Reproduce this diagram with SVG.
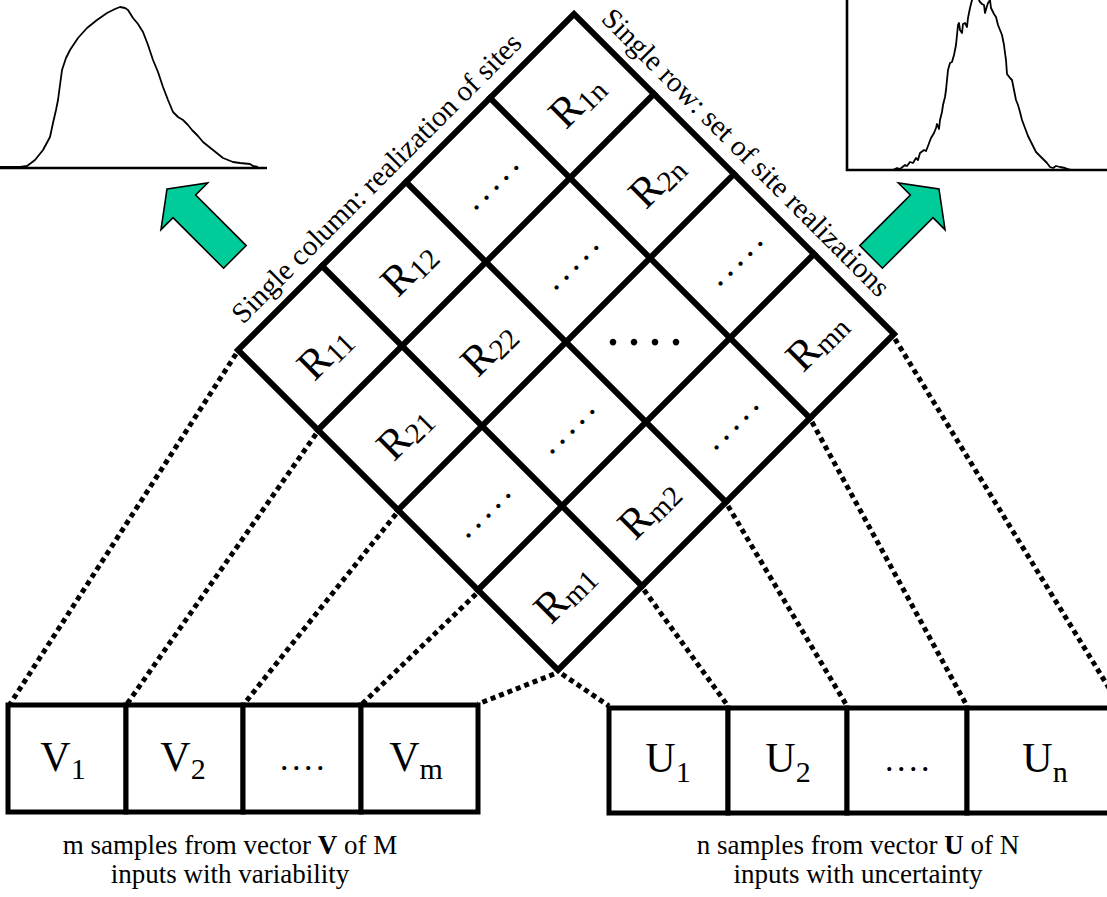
<svg xmlns="http://www.w3.org/2000/svg" width="1107" height="897" viewBox="0 0 1107 897">
  <style>
    text { font-family: "Liberation Serif", "Times New Roman", serif; fill: #000; }
    .grid { fill: none; stroke: #000; stroke-width: 6; stroke-linecap: square; }
    .box { fill: #fff; stroke: #000; stroke-width: 5; }
    .dotted { fill: none; stroke: #000; stroke-width: 5; stroke-dasharray: 5 4; }
    .arrow { fill: #00CC99; stroke: #000; stroke-width: 1.6; stroke-linejoin: miter; }
    .curve { fill: none; stroke: #000; stroke-width: 1.8; stroke-linejoin: round; }
    .axis { fill: none; stroke: #000; stroke-width: 2.6; }
    .cell { font-size: 43px; text-anchor: middle; }
    .sub { font-size: 29px; }
    .rdots { font-size: 36px; text-anchor: middle; letter-spacing: 5px; }
    .edge { font-size: 29px; }
    .lbl { font-size: 42px; text-anchor: middle; }
    .lsub { font-size: 30px; }
    .caption { font-size: 27px; text-anchor: middle; }
  </style>

  <!-- distribution of results across sites (variability) -->
  <g id="variability-pdf">
    <line class="axis" x1="0" y1="168" x2="267" y2="168"/>
    <line class="axis" x1="0" y1="167.5" x2="22" y2="167.5" stroke-width="3.6"/>
    <polyline class="curve" points="0,167 20,167 27,166 35,160 43,150 50,137 53,123 56,110 58,100 60,85 62,70 66,58 70,50 78,38 87,28 97,20 107,13 115,9 120,7 125,8 128,10 133,18 138,24 143,32 148,45 153,60 158,72 163,87 168,100 173,112 178,117 183,120 188,125 192,130 198,136 203,142 208,146 213,150 218,154 223,158 228,160 233,162 240,163 250,164 253,166 258,167"/>
  </g>

  <!-- distribution of results across realizations (uncertainty) -->
  <g id="uncertainty-pdf">
    <path class="axis" d="M847,0 V170 H1107"/>
    <polyline class="curve" points="893,170 897,168 900,169 905,165 907,166 910,162 913,163 916,158 918,160 920,153 924,150 926,151 928,146 931,138 934,133 936,128 937,124 939,129 940,120 942,112 943,105 945,97 946,90 947,80 948,70 950,63 952,62 954,55 956,45 957,35 958,25 959,23 960,30 962,33 963,24 965,23 967,27 968,18 970,8 972,0 975,-3 978,-2 980,2 982,4 984,5 985,13 987,6 988,3 990,0 991,8 992,10 994,14 996,17 998,25 1000,30 1002,35 1004,45 1005,53 1006,60 1007,74 1010,78 1012,80 1014,90 1016,100 1018,105 1020,112 1022,120 1025,128 1028,136 1030,140 1033,146 1036,152 1040,156 1044,160 1047,163 1050,167 1053,168 1056,166 1060,167 1065,168 1068,169 1072,170"/>
  </g>

  <!-- block arrows -->
  <defs>
    <polygon id="block-arrow" points="0,0 33,24.5 16,24.5 16,96 -16,96 -16,24.5 -33,24.5"/>
  </defs>
  <g id="arrow-left"><use href="#block-arrow" class="arrow" transform="translate(167,189) rotate(-45)"/></g>
  <g id="arrow-right"><use href="#block-arrow" class="arrow" transform="translate(939,189) rotate(45)"/></g>

  <!-- dotted connectors between sample boxes and matrix edges -->
  <g id="connectors">
    <line class="dotted" x1="236" y1="354" x2="10" y2="704"/>
    <line class="dotted" x1="316" y1="434" x2="127" y2="704"/>
    <line class="dotted" x1="396" y1="514" x2="244" y2="704"/>
    <line class="dotted" x1="476" y1="594" x2="362" y2="704"/>
    <line class="dotted" x1="554" y1="674" x2="478" y2="704"/>
    <line class="dotted" x1="562" y1="674" x2="609" y2="706"/>
    <line class="dotted" x1="644" y1="590" x2="728" y2="706"/>
    <line class="dotted" x1="728" y1="506" x2="847" y2="706"/>
    <line class="dotted" x1="812" y1="422" x2="967" y2="706"/>
    <line class="dotted" x1="895" y1="339" x2="1120" y2="706"/>
  </g>

  <!-- result matrix: columns run up-right, rows run down-right -->
  <g id="matrix" transform="translate(238,350) rotate(-45)">
    <rect class="grid" x="0" y="0" width="475.2" height="452.6"/>
    <path class="grid" d="M118.8,0 V452.6 M237.6,0 V452.6 M356.4,0 V452.6 M0,113.1 H475.2 M0,226.3 H475.2 M0,339.4 H475.2"/>

    <g id="cell-r11"><text class="cell" x="59.4" y="76.6">R<tspan class="sub" dy="4">11</tspan></text></g>
    <g id="cell-r12"><text class="cell" x="178.2" y="76.6">R<tspan class="sub" dy="4">12</tspan></text></g>
    <g id="cell-r13"><text class="rdots" x="300" y="69.6">.....</text></g>
    <g id="cell-r1n"><text class="cell" x="415.8" y="76.6">R<tspan class="sub" dy="4">1n</tspan></text></g>

    <g id="cell-r21"><text class="cell" x="59.4" y="189.7">R<tspan class="sub" dy="4">21</tspan></text></g>
    <g id="cell-r22"><text class="cell" x="178.2" y="189.7">R<tspan class="sub" dy="4">22</tspan></text></g>
    <g id="cell-r23"><text class="rdots" x="300" y="182.7">.....</text></g>
    <g id="cell-r2n"><text class="cell" x="415.8" y="189.7">R<tspan class="sub" dy="4">2n</tspan></text></g>

    <g id="cell-r31"><text class="rdots" x="62.4" y="295.9">.....</text></g>
    <g id="cell-r32"><text class="rdots" x="181.2" y="295.9">.....</text></g>
    <g id="cell-r3n"><text class="rdots" x="418.8" y="295.9">.....</text></g>

    <g id="cell-rm1"><text class="cell" x="59.4" y="416">R<tspan class="sub" dy="4">m1</tspan></text></g>
    <g id="cell-rm2"><text class="cell" x="178.2" y="416">R<tspan class="sub" dy="4">m2</tspan></text></g>
    <g id="cell-rm3"><text class="rdots" x="300" y="409">.....</text></g>
    <g id="cell-rmn"><text class="cell" x="415.8" y="416">R<tspan class="sub" dy="4">mn</tspan></text></g>
  </g>
  <g id="cell-r33"><text x="648" y="345" style="font-size:56px;text-anchor:middle;letter-spacing:7px">....</text></g>

  <!-- edge labels -->
  <text class="edge" transform="translate(243,325) rotate(-45)">Single column: realization of sites</text>
  <text class="edge" transform="translate(600,20) rotate(45)">Single row: set of site realizations</text>

  <!-- variability samples -->
  <g id="v1"><rect class="box" x="8" y="705" width="118" height="107"/><text class="lbl" x="63" y="771">V<tspan class="lsub" dy="8">1</tspan></text></g>
  <g id="v2"><rect class="box" x="126" y="705" width="117" height="107"/><text class="lbl" x="183" y="771">V<tspan class="lsub" dy="8">2</tspan></text></g>
  <g id="v-dots"><rect class="box" x="243" y="705" width="118" height="107"/><text x="304" y="770" style="font-size:34px;text-anchor:middle;letter-spacing:3.5px">....</text></g>
  <g id="vm"><rect class="box" x="361" y="705" width="117" height="107"/><text class="lbl" x="416" y="771">V<tspan class="lsub" dy="8">m</tspan></text></g>
  <g id="v-caption">
    <text class="caption" x="230" y="854">m samples from vector <tspan font-weight="bold">V</tspan> of M</text>
    <text class="caption" x="230" y="883">inputs with variability</text>
  </g>

  <!-- uncertainty samples -->
  <g id="u1"><rect class="box" x="609" y="708" width="119" height="105"/><text class="lbl" x="668" y="772">U<tspan class="lsub" dy="10">1</tspan></text></g>
  <g id="u2"><rect class="box" x="728" y="708" width="119" height="105"/><text class="lbl" x="788" y="772">U<tspan class="lsub" dy="10">2</tspan></text></g>
  <g id="u-dots"><rect class="box" x="847" y="708" width="120" height="105"/><text x="909" y="771" style="font-size:34px;text-anchor:middle;letter-spacing:3.5px">....</text></g>
  <g id="un"><rect class="box" x="967" y="708" width="156" height="105"/><text class="lbl" x="1045" y="772">U<tspan class="lsub" dy="10">n</tspan></text></g>
  <g id="u-caption">
    <text class="caption" x="858" y="854">n samples from vector <tspan font-weight="bold">U</tspan> of N</text>
    <text class="caption" x="858" y="883">inputs with uncertainty</text>
  </g>
</svg>
